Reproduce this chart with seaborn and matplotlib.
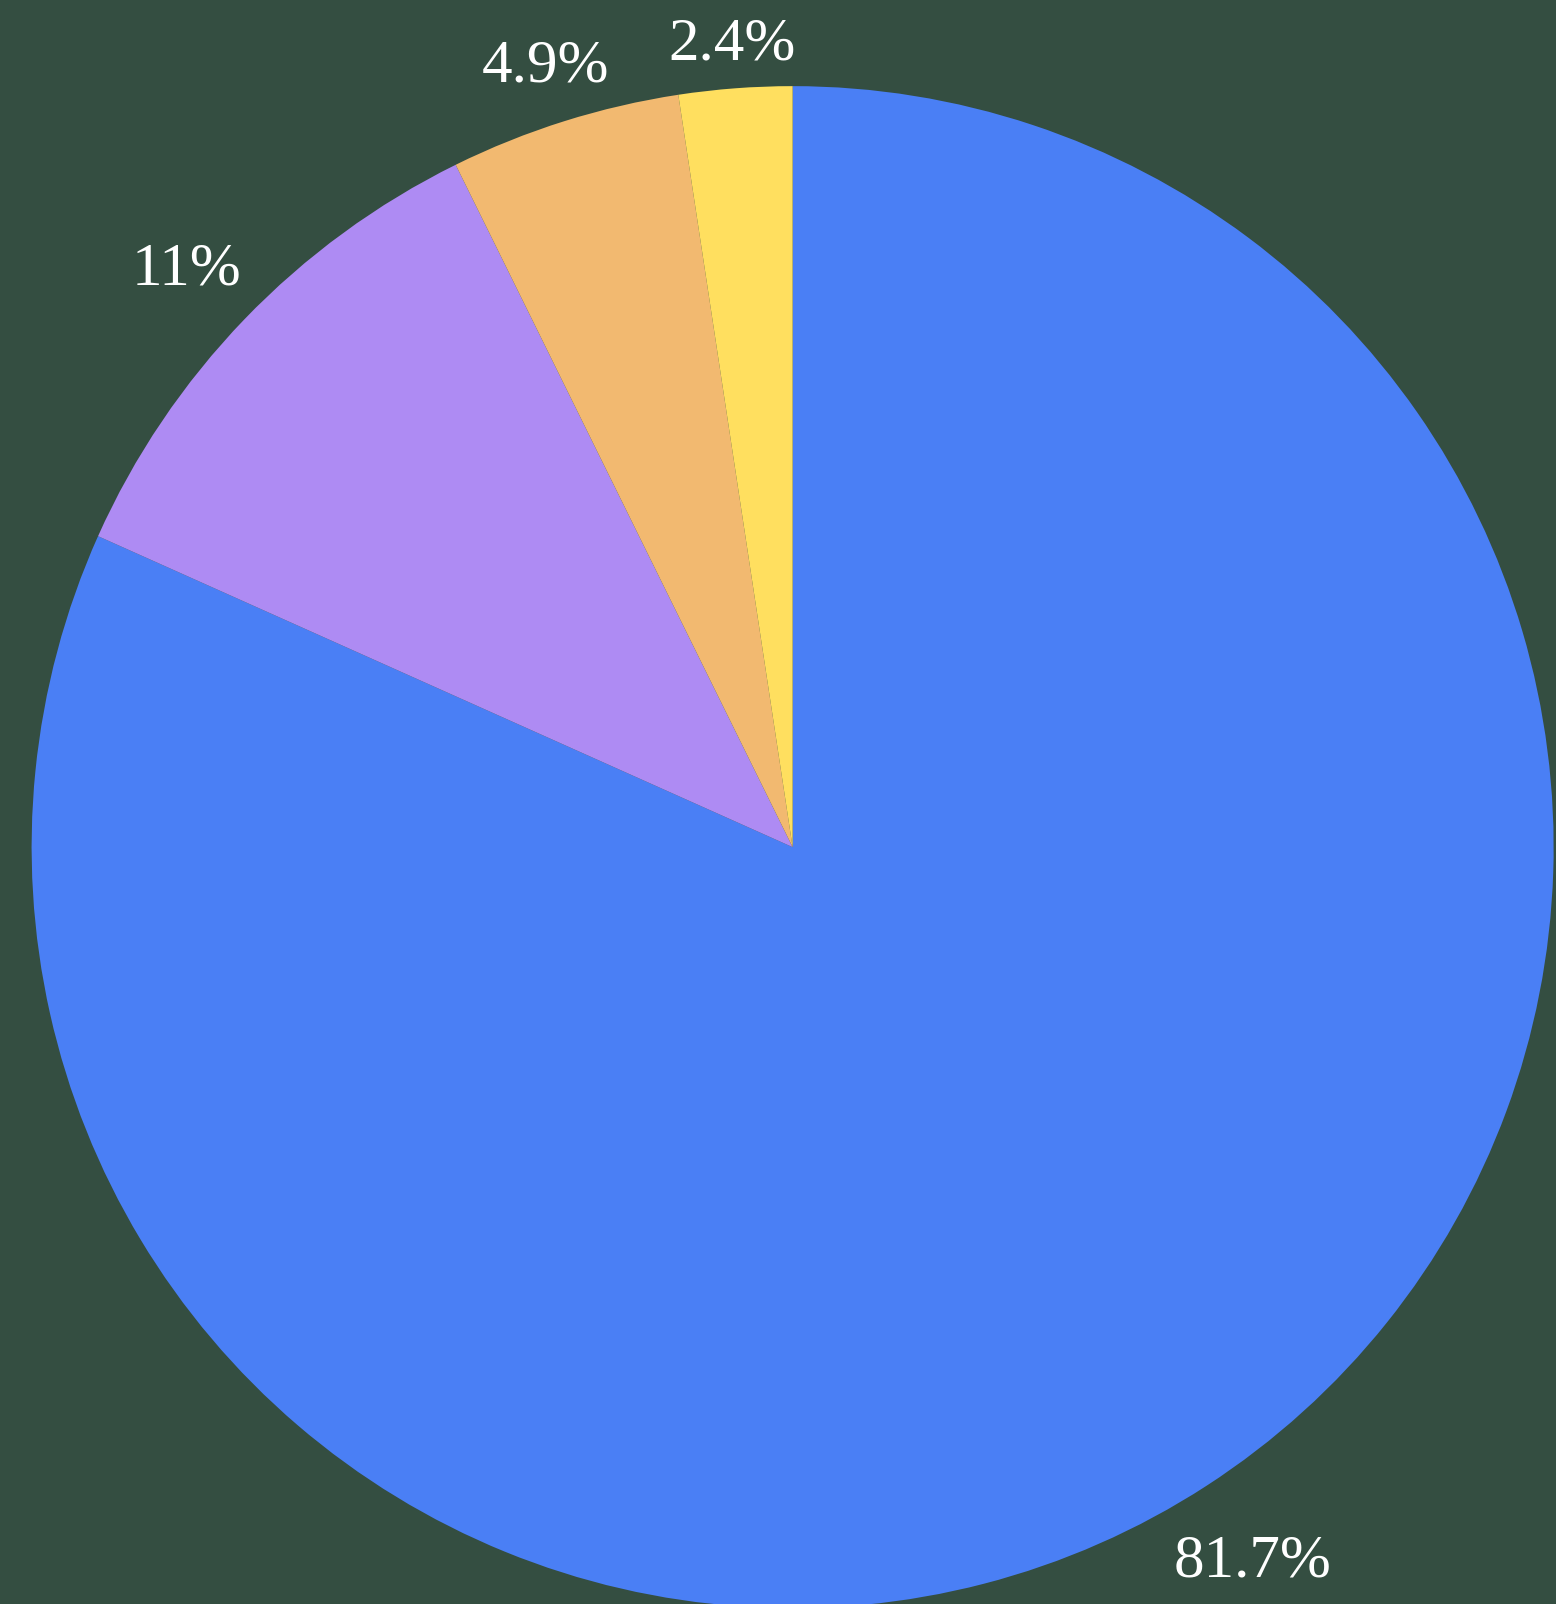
import numpy as np
import matplotlib.pyplot as plt
import seaborn as sns

shares = [81.7, 11, 4.9, 2.4]
labels = ['81.7%', '11%', '4.9%', '2.4%']
colors = ['#4A7FF5', '#AE8BF3', '#F2B970', '#FFDF5F']
bg = '#344E41'

sns.set_theme(style="white")
plt.rcParams['font.family'] = ['Liberation Serif', 'DejaVu Serif']

fig = plt.figure(figsize=(15.56, 16.04), dpi=100, facecolor=bg)
# axes box = pie bounding box (centre ~ (793, 847) px, radius ~ 761 px)
ax = fig.add_axes([0.0203, -0.0026, 0.9782, 0.9489])
ax.set_facecolor(bg)

fs = 44
wedges, texts = ax.pie(shares, labels=labels, colors=colors, startangle=90,
                       counterclock=False, labeldistance=1.1,
                       wedgeprops=dict(linewidth=0),
                       textprops=dict(color='white', fontsize=fs))
ax.set_xlim(-1, 1)
ax.set_ylim(-1, 1)
ax.set_aspect('equal')
ax.axis('off')

# push each label out until the nearest corner of its glyph box sits just outside the rim
fig.canvas.draw()
renderer = fig.canvas.get_renderer()
inv = ax.transData.inverted()
px = 2 / ax.get_window_extent(renderer).width   # data units per pixel
cap = 0.66 * fs * fig.dpi / 72 * px             # cap height in data units
gap = 1.035
for w, t in zip(wedges, texts):
    t.set_ha('center')
    t.set_va('baseline')
    ang = np.deg2rad((w.theta1 + w.theta2) / 2)
    ux, uy = np.cos(ang), np.sin(ang)
    bb = t.get_window_extent(renderer)
    hw, hh = bb.width * px / 2, cap / 2
    lo, hi = 0.8, 2.0
    for _ in range(60):
        d = (lo + hi) / 2
        dx = max(abs(d * ux) - hw, 0)
        dy = max(abs(d * uy) - hh, 0)
        if np.hypot(dx, dy) < gap:
            lo = d
        else:
            hi = d
    t.set_position((d * ux, d * uy - hh))

fig.savefig('out.png', dpi=100, facecolor=bg)
